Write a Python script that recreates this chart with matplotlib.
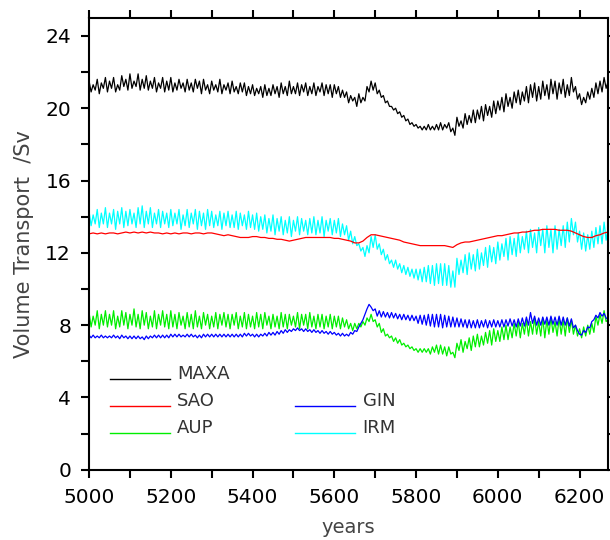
import numpy as np
import matplotlib
matplotlib.use("Agg")
import matplotlib.pyplot as plt
from matplotlib.ticker import MultipleLocator

# noisy series sampled every 5 years, the smooth SAO every 10 years
years5 = np.arange(5000, 6275, 5)
years10 = np.arange(5000, 6280, 10)

maxa = [21.5, 20.9, 21.3, 21.0, 21.6, 20.8, 21.4, 21.1, 21.7, 20.9,
        21.5, 21.1, 21.7, 20.9, 21.3, 21.0, 21.8, 21.2, 21.6, 21.0,
        21.9, 21.1, 21.5, 21.2, 21.9, 21.0, 21.6, 21.1, 21.8, 21.0,
        21.5, 21.1, 21.7, 20.9, 21.4, 21.1, 21.7, 20.9, 21.5, 21.0,
        21.7, 20.9, 21.4, 21.0, 21.6, 21.1, 21.4, 20.9, 21.6, 21.0,
        21.4, 20.9, 21.6, 21.1, 21.5, 20.8, 21.6, 21.0, 21.3, 20.8,
        21.5, 21.0, 21.3, 20.9, 21.6, 20.8, 21.3, 21.0, 21.4, 20.8,
        21.5, 20.9, 21.2, 20.8, 21.4, 20.9, 21.4, 20.7, 21.2, 20.8,
        21.3, 20.7, 21.1, 20.8, 21.2, 20.6, 21.3, 20.7, 21.1, 20.7,
        21.3, 20.8, 21.2, 20.6, 21.4, 20.8, 21.2, 20.7, 21.5, 20.8,
        21.2, 20.8, 21.4, 20.7, 21.3, 20.9, 21.4, 20.7, 21.2, 20.8,
        21.4, 20.7, 21.2, 20.9, 21.4, 20.7, 21.3, 20.8, 21.3, 20.6,
        21.3, 20.8, 21.2, 20.6, 21.0, 20.6, 20.9, 20.3, 20.7, 20.4,
        20.6, 20.1, 20.8, 20.3, 20.6, 20.4, 21.2, 20.9, 21.5, 21.0,
        21.4, 20.8, 21.0, 20.6, 20.7, 20.3, 20.4, 20.1, 20.1, 19.9,
        20.0, 19.7, 19.8, 19.5, 19.6, 19.3, 19.4, 19.1, 19.2, 19.0,
        19.1, 18.9, 19.0, 18.8, 19.0, 18.8, 19.1, 18.8, 19.0, 18.8,
        19.1, 18.8, 19.2, 18.8, 19.1, 18.9, 19.2, 18.7, 18.9, 18.5,
        19.5, 19.0, 19.3, 18.9, 19.7, 19.1, 19.6, 19.2, 19.9, 19.2,
        19.9, 19.4, 20.1, 19.3, 20.2, 19.6, 20.1, 19.5, 20.4, 19.7,
        20.4, 19.9, 20.6, 19.8, 20.8, 20.1, 20.6, 20.0, 20.9, 20.3,
        21.0, 20.2, 20.9, 20.4, 21.2, 20.3, 21.3, 20.6, 21.4, 20.4,
        21.2, 20.5, 21.5, 20.7, 21.3, 20.5, 21.6, 20.8, 21.5, 20.5,
        21.4, 20.8, 21.6, 20.6, 21.3, 20.7, 21.7, 20.9, 21.2, 20.5,
        20.8, 20.2, 20.6, 20.3, 20.9, 20.5, 21.1, 20.6, 21.4, 20.8,
        21.5, 20.9, 21.7, 21.1, 21.5]

sao = [13.05, 13.1, 13.05, 13.1, 13.05, 13.1, 13.1, 13.05, 13.1, 13.15,
       13.1, 13.15, 13.1, 13.15, 13.1, 13.15, 13.1, 13.1, 13.05, 13.1,
       13.05, 13.1, 13.05, 13.1, 13.1, 13.05, 13.1, 13.1, 13.05, 13.1,
       13.1, 13.05, 13.0, 12.95, 13.0, 12.95, 12.9, 12.85, 12.85, 12.85,
       12.9, 12.9, 12.85, 12.85, 12.8, 12.8, 12.75, 12.75, 12.7, 12.65,
       12.7, 12.75, 12.8, 12.85, 12.85, 12.85, 12.85, 12.85, 12.85, 12.85,
       12.8, 12.8, 12.75, 12.7, 12.65, 12.55, 12.55, 12.65, 12.85, 13.0,
       13.0, 12.95, 12.9, 12.85, 12.8, 12.75, 12.7, 12.6, 12.55, 12.5,
       12.45, 12.4, 12.4, 12.4, 12.4, 12.4, 12.4, 12.4, 12.35, 12.3,
       12.45, 12.55, 12.6, 12.6, 12.65, 12.7, 12.75, 12.8, 12.85, 12.9,
       12.95, 12.95, 13.0, 13.05, 13.1, 13.1, 13.15, 13.15, 13.2, 13.25,
       13.25, 13.3, 13.3, 13.3, 13.3, 13.25, 13.25, 13.25, 13.2, 13.1,
       13.0, 12.9, 12.85, 12.85, 12.95, 13.0, 13.1, 13.15]

aup = [8.7, 7.9, 8.5, 8.0, 8.8, 7.8, 8.6, 8.0, 8.8, 7.9,
       8.6, 8.0, 8.8, 7.8, 8.5, 7.9, 8.8, 8.0, 8.7, 7.8,
       8.6, 8.0, 8.9, 7.9, 8.6, 7.8, 8.8, 8.0, 8.7, 7.8,
       8.5, 7.9, 8.8, 7.8, 8.6, 8.0, 8.8, 7.9, 8.6, 7.8,
       8.8, 7.9, 8.6, 7.8, 8.7, 8.0, 8.5, 7.8, 8.7, 7.9,
       8.6, 7.8, 8.8, 7.9, 8.5, 7.8, 8.7, 8.0, 8.6, 7.8,
       8.5, 7.9, 8.7, 7.8, 8.6, 8.0, 8.7, 7.9, 8.6, 7.8,
       8.6, 8.0, 8.7, 7.8, 8.5, 7.9, 8.7, 7.8, 8.6, 7.9,
       8.5, 7.8, 8.7, 7.9, 8.6, 7.8, 8.7, 8.0, 8.5, 7.8,
       8.6, 7.9, 8.5, 7.8, 8.7, 7.9, 8.6, 7.8, 8.6, 8.0,
       8.5, 7.9, 8.7, 7.8, 8.6, 8.0, 8.6, 7.8, 8.7, 7.9,
       8.5, 7.8, 8.6, 7.9, 8.6, 7.8, 8.5, 7.9, 8.6, 7.8,
       8.5, 7.9, 8.5, 7.8, 8.4, 7.9, 8.3, 7.8, 8.1, 7.7,
       8.1, 7.8, 8.1, 7.9, 8.2, 8.0, 8.4, 8.2, 8.6, 8.2,
       8.3, 7.9, 8.1, 7.6, 7.8, 7.4, 7.5, 7.3, 7.4, 7.1,
       7.3, 7.0, 7.2, 6.9, 7.0, 6.8, 6.9, 6.7, 6.8, 6.6,
       6.7, 6.5, 6.7, 6.5, 6.7, 6.5, 6.7, 6.4, 6.8, 6.5,
       6.9, 6.4, 6.9, 6.4, 6.8, 6.3, 6.8, 6.4, 6.5, 6.2,
       7.0, 6.6, 7.2, 6.5, 7.1, 6.7, 7.3, 6.6, 7.4, 6.8,
       7.5, 6.8, 7.4, 6.9, 7.6, 7.0, 7.7, 6.9, 7.8, 7.1,
       7.7, 7.1, 7.9, 7.2, 8.0, 7.2, 7.9, 7.3, 8.1, 7.4,
       8.2, 7.3, 8.1, 7.5, 8.3, 7.4, 8.2, 7.5, 8.4, 7.5,
       8.2, 7.4, 8.4, 7.3, 8.3, 7.5, 8.4, 7.6, 8.2, 7.4,
       8.4, 7.5, 8.3, 7.4, 8.4, 7.6, 8.3, 7.5, 8.0, 7.4,
       7.8, 7.3, 7.9, 7.4, 8.0, 7.5, 8.1, 7.6, 8.5, 8.0,
       8.6, 8.1, 8.8, 8.2, 8.3]

gin = [7.45, 7.3, 7.45, 7.3, 7.4, 7.3, 7.45, 7.3, 7.4, 7.3,
       7.4, 7.3, 7.45, 7.3, 7.4, 7.25, 7.45, 7.3, 7.4, 7.25,
       7.4, 7.25, 7.4, 7.25, 7.4, 7.25, 7.35, 7.2, 7.4, 7.25,
       7.4, 7.3, 7.45, 7.3, 7.45, 7.3, 7.45, 7.3, 7.45, 7.3,
       7.5, 7.35, 7.5, 7.35, 7.5, 7.35, 7.45, 7.35, 7.5, 7.35,
       7.5, 7.35, 7.45, 7.3, 7.45, 7.3, 7.5, 7.35, 7.5, 7.35,
       7.5, 7.35, 7.5, 7.35, 7.5, 7.35, 7.5, 7.35, 7.5, 7.35,
       7.5, 7.35, 7.5, 7.35, 7.5, 7.35, 7.55, 7.4, 7.55, 7.4,
       7.5, 7.35, 7.5, 7.35, 7.5, 7.4, 7.55, 7.4, 7.6, 7.45,
       7.6, 7.45, 7.65, 7.5, 7.7, 7.55, 7.75, 7.6, 7.75, 7.65,
       7.8, 7.7, 7.85, 7.7, 7.8, 7.65, 7.8, 7.65, 7.75, 7.6,
       7.75, 7.6, 7.7, 7.55, 7.7, 7.55, 7.65, 7.5, 7.65, 7.5,
       7.6, 7.45, 7.55, 7.4, 7.55, 7.4, 7.5, 7.4, 7.6, 7.5,
       7.7, 7.65, 7.9, 8.1, 8.3, 8.6, 8.9, 9.15, 9.0, 8.8,
       8.9, 8.5, 8.8, 8.45, 8.75, 8.45, 8.7, 8.4, 8.7, 8.4,
       8.65, 8.35, 8.6, 8.3, 8.6, 8.3, 8.55, 8.25, 8.55, 8.25,
       8.5, 8.1, 8.55, 8.05, 8.55, 8.0, 8.6, 7.95, 8.6, 7.9,
       8.6, 7.9, 8.6, 7.85, 8.55, 7.9, 8.5, 7.9, 8.45, 7.9,
       8.4, 7.9, 8.35, 7.9, 8.3, 7.85, 8.3, 7.85, 8.25, 7.85,
       8.3, 7.85, 8.25, 7.9, 8.3, 7.85, 8.25, 7.9, 8.3, 7.9,
       8.25, 7.9, 8.3, 7.9, 8.3, 7.95, 8.35, 7.95, 8.3, 7.9,
       8.35, 7.95, 8.4, 7.95, 8.45, 8.0, 8.7, 8.1, 8.5, 8.0,
       8.4, 8.0, 8.45, 8.05, 8.45, 8.0, 8.5, 8.05, 8.45, 8.0,
       8.5, 8.0, 8.45, 8.0, 8.4, 7.95, 8.35, 7.85, 8.0, 7.7,
       7.5, 7.45, 7.7, 7.6, 7.9, 7.85, 8.2, 8.3, 8.55, 8.4,
       8.7, 8.5, 8.65, 8.4, 8.3]

irm = [14.3, 13.5, 14.1, 13.6, 14.4, 13.4, 14.2, 13.6, 14.5, 13.4,
       14.2, 13.6, 14.4, 13.3, 14.3, 13.6, 14.5, 13.4, 14.3, 13.5,
       14.4, 13.6, 14.2, 13.4, 14.5, 13.6, 14.6, 13.4, 14.3, 13.6,
       14.5, 13.4, 14.2, 13.6, 14.4, 13.4, 14.3, 13.6, 14.2, 13.4,
       14.4, 13.5, 14.2, 13.6, 14.4, 13.3, 14.1, 13.5, 14.4, 13.4,
       14.2, 13.6, 14.4, 13.3, 14.3, 13.5, 14.2, 13.3, 14.4, 13.5,
       14.3, 13.4, 14.1, 13.5, 14.3, 13.3, 14.2, 13.5, 14.3, 13.4,
       14.1, 13.4, 14.3, 13.3, 14.2, 13.5, 14.1, 13.3, 14.3, 13.4,
       14.1, 13.3, 14.2, 13.2, 14.0, 13.3, 14.1, 13.1, 13.9, 13.2,
       14.1, 13.0, 13.9, 13.2, 14.0, 13.0, 13.8, 13.1, 14.0, 12.9,
       13.8, 13.2, 14.0, 13.0, 13.9, 13.2, 13.8, 13.0, 13.9, 13.1,
       14.0, 13.0, 13.8, 13.1, 14.0, 12.9, 13.8, 13.2, 13.9, 13.0,
       13.8, 13.1, 13.9, 12.9, 13.6, 13.0, 13.5, 12.7, 13.2, 12.5,
       12.9, 12.4, 12.5, 12.1, 12.3, 11.8, 12.4, 12.0, 12.9, 12.3,
       13.0, 12.2, 12.5, 11.9, 12.2, 11.6, 11.9, 11.4, 11.6, 11.2,
       11.6, 11.1, 11.4, 10.9, 11.3, 10.8, 11.2, 10.7, 11.1, 10.6,
       11.1, 10.5, 11.1, 10.4, 11.2, 10.4, 11.3, 10.3, 11.3, 10.2,
       11.4, 10.3, 11.4, 10.2, 11.4, 10.2, 11.3, 10.1, 11.0, 10.1,
       11.7, 10.8, 11.6, 10.9, 11.9, 10.8, 12.0, 11.1, 11.9, 11.0,
       12.2, 11.1, 12.0, 11.3, 12.3, 11.2, 12.4, 11.5, 12.3, 11.4,
       12.6, 11.6, 12.5, 11.8, 12.8, 11.6, 12.9, 11.9, 12.8, 11.8,
       13.1, 12.0, 12.9, 12.2, 13.2, 12.0, 13.3, 12.3, 13.1, 12.0,
       13.4, 12.4, 13.3, 12.0, 13.5, 12.3, 13.3, 12.0, 13.5, 12.2,
       13.3, 12.4, 13.5, 12.3, 13.7, 12.6, 13.9, 13.0, 13.7, 12.6,
       13.2, 12.2, 13.1, 12.1, 13.0, 12.2, 13.2, 12.3, 13.4, 12.5,
       13.5, 12.5, 13.7, 12.7, 13.4]

names = ["MAXA", "SAO", "AUP", "GIN", "IRM"]
colors = ["black", "#ff0000", "#00ee00", "#0000ff", "#00ffff"]

fig = plt.figure(figsize=(6.1, 5.4), dpi=100)
ax = fig.add_axes([0.146, 0.130, 0.851, 0.837])

lw = 0.9
ax.plot(years5, maxa, color=colors[0], lw=lw)
ax.plot(years5, irm, color=colors[4], lw=lw)
ax.plot(years10, sao, color=colors[1], lw=lw)
ax.plot(years5, aup, color=colors[2], lw=lw)
ax.plot(years5, gin, color=colors[3], lw=lw)

ax.set_xlim(5000, 6270)
ax.set_ylim(0, 25)
ax.xaxis.set_major_locator(MultipleLocator(200))
ax.xaxis.set_minor_locator(MultipleLocator(100))
ax.yaxis.set_major_locator(MultipleLocator(4))
ax.yaxis.set_minor_locator(MultipleLocator(2))
ax.tick_params(which="both", direction="out", length=6, width=1.5,
               top=True, right=True, labelsize=14.5, pad=7)
for s in ax.spines.values():
    s.set_linewidth(1.5)

ax.set_xlabel("years", fontsize=14, color="#444444", labelpad=8)
ax.set_ylabel("Volume Transport  /Sv", fontsize=15, color="#444444", labelpad=8)

# legend drawn by hand: MAXA alone on first row, then two columns
leg_pos = {"MAXA": (0.040, 0.201), "SAO": (0.040, 0.142), "AUP": (0.040, 0.082),
           "GIN": (0.397, 0.142), "IRM": (0.397, 0.082)}
for name, c in zip(names, colors):
    x0, y0 = leg_pos[name]
    ax.plot([x0, x0 + 0.116], [y0, y0], color=c, lw=1.0, transform=ax.transAxes)
    ax.text(x0 + 0.13, y0 + 0.01, name, transform=ax.transAxes, fontsize=13,
            color="#333333", va="center", ha="left")

plt.savefig("out.png", dpi=100)
